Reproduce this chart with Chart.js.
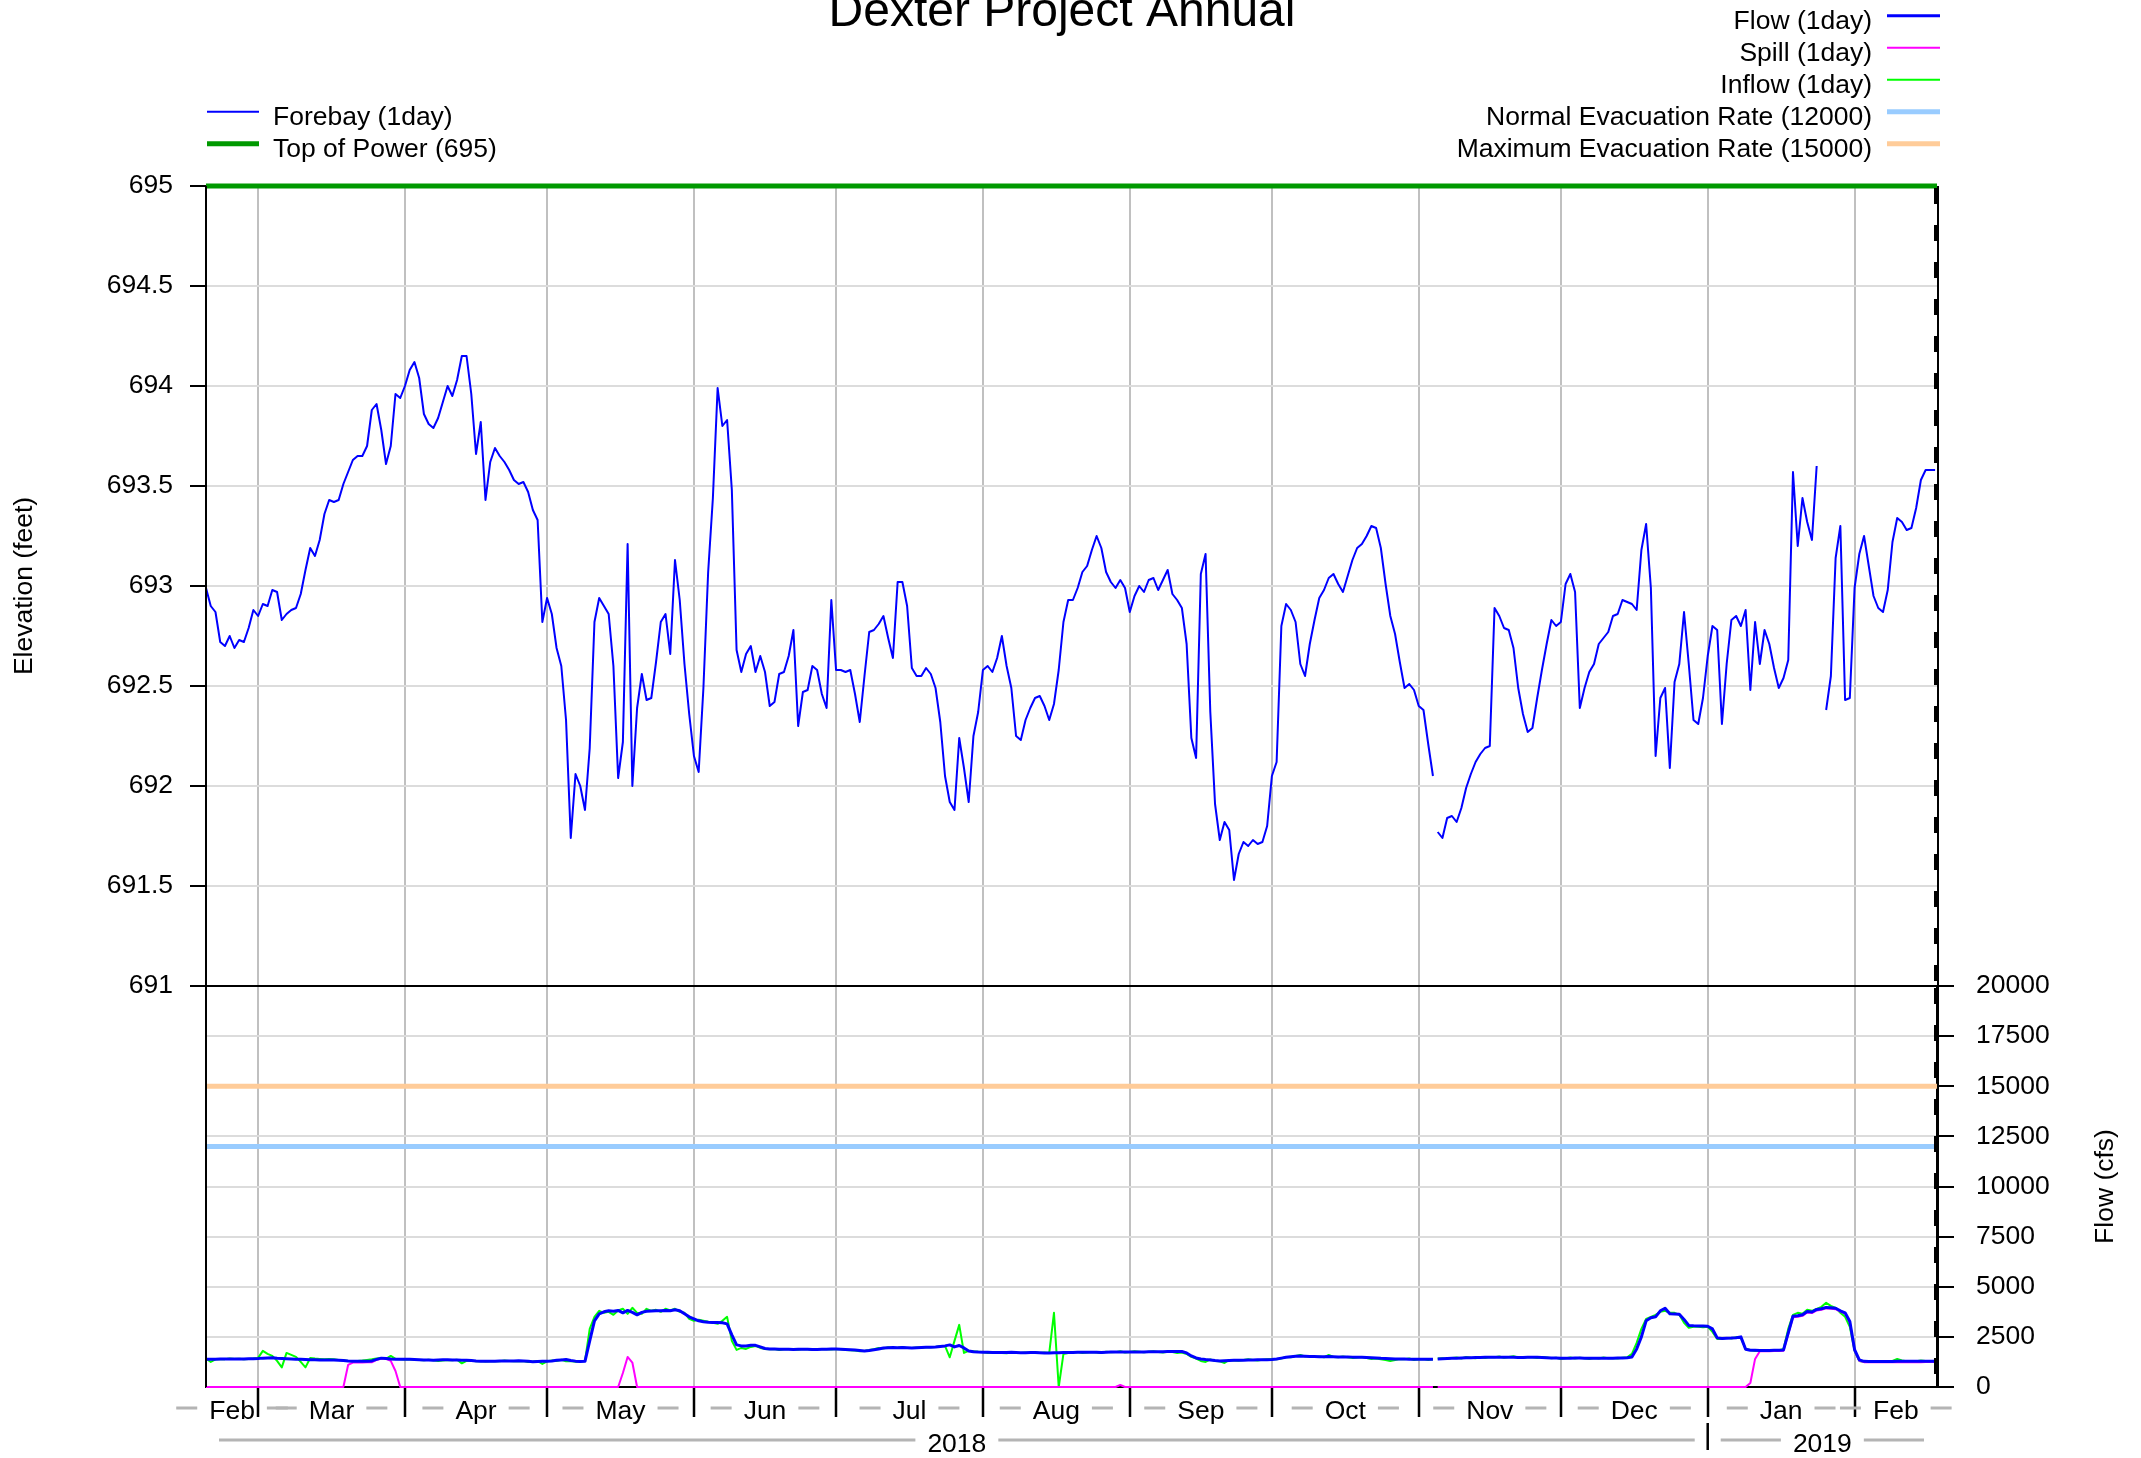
<!DOCTYPE html>
<html>
<head>
<meta charset="utf-8">
<title>Dexter Project Annual</title>
<script src="https://cdn.jsdelivr.net/npm/chart.js@4.4.1/dist/chart.umd.min.js"></script>
<style>
  html, body { margin: 0; padding: 0; background: #fff; }
  #wrap { position: relative; width: 2141px; height: 1458px; overflow: hidden; }
  #wrap canvas { position: absolute; left: 0; }
  #elevChart { top: 0; }
  #flowChart { top: 940px; }
</style>
</head>
<body>
<div id="wrap">
  <canvas id="elevChart" width="2141" height="1040"></canvas>
  <canvas id="flowChart" width="2141" height="518"></canvas>
</div>
<script>
const FONT = "'Liberation Sans', Arial, Helvetica, sans-serif";
Chart.defaults.font.family = FONT;
Chart.defaults.font.size = 26.5;
Chart.defaults.color = '#000';

// x axis: day number counted from 18 Feb 2018
const monthLabels = ['Feb', 'Mar', 'Apr', 'May', 'Jun', 'Jul', 'Aug', 'Sep', 'Oct', 'Nov', 'Dec', 'Jan', 'Feb'];
const monthStarts = [0, 11, 42, 72, 103, 133, 164, 195, 225, 256, 286, 317, 348];
const yearLabels = ['2018', '2019'];
const yearStarts = [0, 317];
const lastDay = 365.4;
const dstBreak = 259.5; // line break on 4 Nov (end of daylight time)

const elevationTicks = [691, 691.5, 692, 692.5, 693, 693.5, 694, 694.5, 695];
const flowTicks = [0, 2500, 5000, 7500, 10000, 12500, 15000, 17500, 20000];

const topOfPower = 695;
const normalEvacuation = 12000;
const maximumEvacuation = 15000;

// forebay elevation (feet), one value per day
const forebay = [
  692.99, 692.90, 692.87, 692.72, 692.70, 692.75, 692.69, 692.73, 692.72, 692.79, 692.88, 692.85, 692.91, 692.90, 692.98, 692.97, 692.83, 692.86, 692.88,
  692.89, 692.96, 693.08, 693.19, 693.15, 693.23, 693.36, 693.43, 693.42, 693.43, 693.51, 693.57, 693.63, 693.65, 693.65, 693.70, 693.88, 693.91, 693.78, 693.61, 693.70,
  693.96, 693.94, 694.00, 694.08, 694.12, 694.04, 693.86, 693.81, 693.79, 693.84, 693.92, 694.00, 693.95, 694.03, 694.15, 694.15, 693.96, 693.66, 693.82, 693.43, 693.62, 693.69, 693.65,
  693.62, 693.58, 693.53, 693.51, 693.52, 693.47, 693.38, 693.33, 692.82, 692.94, 692.86, 692.69, 692.60, 692.33, 691.74, 692.06, 692.00, 691.88, 692.19, 692.82, 692.94,
  692.90, 692.86, 692.60, 692.04, 692.22, 693.21, 692.00, 692.39, 692.56, 692.43, 692.44, 692.62, 692.82, 692.86, 692.66, 693.13, 692.93, 692.61, 692.36, 692.15, 692.07,
  692.49, 693.07, 693.44, 693.99, 693.80, 693.83, 693.48, 692.68, 692.57, 692.66, 692.70, 692.57, 692.65, 692.57, 692.40, 692.42, 692.56, 692.57, 692.65, 692.78, 692.30,
  692.47, 692.48, 692.60, 692.58, 692.46, 692.39, 692.93, 692.58, 692.58, 692.57, 692.58, 692.46, 692.32, 692.55, 692.77, 692.78, 692.81, 692.85, 692.74, 692.64, 693.02,
  693.02, 692.90, 692.59, 692.55, 692.55, 692.59, 692.56, 692.49, 692.32, 692.05, 691.92, 691.88, 692.24, 692.09, 691.92, 692.25, 692.37, 692.58, 692.60, 692.57, 692.64,
  692.75, 692.60, 692.49, 692.25, 692.23, 692.33, 692.39, 692.44, 692.45, 692.40, 692.33, 692.41, 692.58, 692.82, 692.93, 692.93, 692.99, 693.07, 693.10, 693.18, 693.25,
  693.19, 693.07, 693.02, 692.99, 693.03, 692.99, 692.87, 692.95, 693.00, 692.97, 693.03, 693.04, 692.98, 693.03, 693.08, 692.96, 692.93, 692.89, 692.71, 692.24, 692.14,
  693.06, 693.16, 692.37, 691.91, 691.73, 691.82, 691.78, 691.53, 691.66, 691.72, 691.70, 691.73, 691.71, 691.72, 691.80, 692.05, 692.12, 692.80, 692.91, 692.88, 692.82,
  692.61, 692.55, 692.71, 692.83, 692.94, 692.98, 693.04, 693.06, 693.01, 692.97, 693.05, 693.13, 693.19, 693.21, 693.25, 693.30, 693.29, 693.19, 693.01, 692.85, 692.76,
  692.62, 692.49, 692.51, 692.48, 692.40, 692.38, 692.21, 692.05, 691.77, 691.74, 691.84, 691.85, 691.82, 691.89, 691.99, 692.06, 692.12, 692.16, 692.19, 692.20, 692.89,
  692.85, 692.79, 692.78, 692.69, 692.49, 692.36, 692.27, 692.29, 692.44, 692.58, 692.71, 692.83, 692.80, 692.82, 693.01, 693.06, 692.97, 692.39, 692.49, 692.57, 692.61,
  692.71, 692.74, 692.77, 692.85, 692.86, 692.93, 692.92, 692.91, 692.88, 693.18, 693.31, 692.99, 692.15, 692.44, 692.49, 692.09, 692.52, 692.61, 692.87, 692.61, 692.33,
  692.31, 692.44, 692.65, 692.80, 692.78, 692.31, 692.61, 692.83, 692.85, 692.80, 692.88, 692.48, 692.82, 692.61, 692.78, 692.71, 692.59, 692.49, 692.54, 692.63, 693.57,
  693.20, 693.44, 693.32, 693.23, 693.60, null, 692.38, 692.55, 693.14, 693.30,
  692.43, 692.44, 692.99, 693.16, 693.25, 693.10, 692.95, 692.89, 692.87, 692.98, 693.22, 693.34, 693.32, 693.28, 693.29, 693.39, 693.53, 693.58, 693.58, 693.58
];

// daily flows (cfs)
const flow = [
  1380, 1390, 1390, 1400, 1400, 1400, 1400, 1400, 1400, 1410, 1410, 1420, 1440, 1450, 1460, 1430, 1420, 1410, 1400, 1390,
  1380, 1370, 1360, 1360, 1350, 1350, 1350, 1350, 1340, 1320, 1300, 1290, 1280, 1280, 1290, 1300, 1380, 1440, 1420, 1400,
  1390, 1390, 1380, 1380, 1370, 1360, 1350, 1350, 1340, 1350, 1360, 1360, 1350, 1350, 1340, 1340, 1320, 1300, 1290, 1280,
  1280, 1290, 1300, 1300, 1300, 1300, 1310, 1300, 1280, 1260, 1270, 1280, 1290, 1300, 1330, 1350, 1370, 1320, 1290, 1270,
  1280, 2300, 3300, 3650, 3750, 3800, 3780, 3820, 3700, 3820, 3720, 3600, 3720, 3780, 3790, 3800, 3800, 3820, 3800, 3850,
  3800, 3650, 3500, 3400, 3300, 3250, 3230, 3220, 3220, 3200, 3150, 2600, 2100, 2050, 2050, 2080, 2080, 2000, 1920, 1900,
  1890, 1880, 1880, 1880, 1870, 1880, 1880, 1880, 1870, 1870, 1880, 1880, 1890, 1890, 1880, 1870, 1860, 1840, 1820, 1800,
  1820, 1860, 1900, 1940, 1960, 1970, 1960, 1970, 1960, 1950, 1960, 1970, 1980, 1980, 1990, 2020, 2050, 2100, 2000, 2070,
  1950, 1800, 1760, 1740, 1730, 1730, 1720, 1720, 1720, 1720, 1730, 1720, 1710, 1710, 1720, 1720, 1710, 1700, 1700, 1710,
  1710, 1720, 1720, 1720, 1730, 1730, 1730, 1730, 1730, 1720, 1730, 1740, 1750, 1750, 1740, 1740, 1750, 1750, 1750, 1760,
  1760, 1760, 1760, 1770, 1770, 1770, 1770, 1700, 1550, 1450, 1400, 1370, 1350, 1320, 1300, 1310, 1320, 1330, 1340, 1340,
  1350, 1350, 1360, 1360, 1360, 1370, 1400, 1440, 1480, 1510, 1530, 1540, 1530, 1520, 1520, 1510, 1510, 1520, 1510, 1500,
  1500, 1500, 1490, 1490, 1480, 1470, 1460, 1450, 1430, 1420, 1410, 1400, 1400, 1400, 1390, 1390, 1390, 1390, 1390, 1390,
  1400, 1410, 1420, 1430, 1440, 1450, 1460, 1460, 1470, 1470, 1480, 1480, 1480, 1480, 1490, 1480, 1480, 1470, 1470, 1480,
  1490, 1480, 1470, 1460, 1450, 1450, 1440, 1440, 1440, 1450, 1450, 1440, 1430, 1430, 1440, 1440, 1440, 1440, 1450, 1450,
  1460, 1500, 1900, 2500, 3300, 3450, 3500, 3800, 3930, 3650, 3640, 3630, 3370, 3070, 3050, 3040, 3040, 3030, 2900, 2450,
  2420, 2430, 2440, 2460, 2500, 1880, 1830, 1830, 1820, 1820, 1820, 1830, 1830, 1850, 2700, 3530, 3550, 3600, 3770, 3740,
  3870, 3900, 3970, 3950, 3930, 3800, 3700, 3270, 1870, 1350, 1280, 1270, 1270, 1270, 1270, 1270, 1270, 1280, 1280, 1280,
  1280, 1280, 1280, 1290, 1290, 1290
];

const spill = [
  0, 0, 0, 0, 0, 0, 0, 0, 0, 0, 0, 0, 0, 0, 0, 0, 0, 0, 0, 0,
  0, 0, 0, 0, 0, 0, 0, 0, 0, 0, 1100, 1220, 1220, 1220, 1230, 1230, 1350, 1420, 1400, 1300,
  800, 0, 0, 0, 0, 0, 0, 0, 0, 0, 0, 0, 0, 0, 0, 0, 0, 0, 0, 0,
  0, 0, 0, 0, 0, 0, 0, 0, 0, 0, 0, 0, 0, 0, 0, 0, 0, 0, 0, 0,
  0, 0, 0, 0, 0, 0, 0, 0, 700, 1500, 1220, 0, 0, 0, 0, 0, 0, 0, 0, 0,
  0, 0, 0, 0, 0, 0, 0, 0, 0, 0, 0, 0, 0, 0, 0, 0, 0, 0, 0, 0,
  0, 0, 0, 0, 0, 0, 0, 0, 0, 0, 0, 0, 0, 0, 0, 0, 0, 0, 0, 0,
  0, 0, 0, 0, 0, 0, 0, 0, 0, 0, 0, 0, 0, 0, 0, 0, 0, 0, 0, 0,
  0, 0, 0, 0, 0, 0, 0, 0, 0, 0, 0, 0, 0, 0, 0, 0, 0, 0, 0, 0,
  0, 0, 0, 0, 0, 0, 0, 0, 0, 0, 0, 0, 0, 100, 0, 0, 0, 0, 0, 0,
  0, 0, 0, 0, 0, 0, 0, 0, 0, 0, 0, 0, 0, 0, 0, 0, 0, 0, 0, 0,
  0, 0, 0, 0, 0, 0, 0, 0, 0, 0, 0, 0, 0, 0, 0, 0, 0, 0, 0, 0,
  0, 0, 0, 0, 0, 0, 0, 0, 0, 0, 0, 0, 0, 0, 0, 0, 0, 0, 0, 0,
  0, 0, 0, 0, 0, 0, 0, 0, 0, 0, 0, 0, 0, 0, 0, 0, 0, 0, 0, 0,
  0, 0, 0, 0, 0, 0, 0, 0, 0, 0, 0, 0, 0, 0, 0, 0, 0, 0, 0, 0,
  0, 0, 0, 0, 0, 0, 0, 0, 0, 0, 0, 0, 0, 0, 0, 0, 0, 0, 0, 0,
  0, 0, 0, 0, 0, 0, 200, 1400, 1780, 1780, 1780, 1790, 1790, 1810, 2650, 3480, 3500, 3550, 3720, 3690,
  3820, 3850, 3920, 3900, 3880, 3760, 3660, 3230, 1830, 1310, 1240, 1230, 1230, 1230, 1230, 1230, 1230, 1240, 1240, 1240,
  1240, 1240, 1240, 1250, 1250, 1250
];

const inflow = [
  1420, 1250, 1380, 1400, 1390, 1420, 1400, 1410, 1380, 1400, 1420, 1450, 1800, 1650, 1550, 1300, 980, 1700, 1600, 1500,
  1250, 980, 1450, 1420, 1400, 1380, 1400, 1380, 1350, 1330, 1300, 1280, 1300, 1320, 1350, 1380, 1420, 1450, 1400, 1550,
  1400, 1380, 1370, 1380, 1360, 1350, 1340, 1360, 1330, 1300, 1320, 1350, 1340, 1360, 1180, 1300, 1320, 1280, 1300, 1270,
  1280, 1300, 1290, 1320, 1300, 1280, 1300, 1290, 1250, 1270, 1300, 1150, 1280, 1320, 1300, 1360, 1280, 1300, 1260, 1270,
  1300, 2900, 3500, 3800, 3700, 3750, 3600, 3820, 3900, 3650, 3950, 3700, 3650, 3900, 3800, 3850, 3750, 3900, 3820, 3900,
  3750, 3700, 3400, 3300, 3350, 3300, 3250, 3200, 3150, 3300, 3500, 2300, 1850, 1950, 1900, 2000, 2050, 1950, 1900, 1880,
  1900, 1850, 1880, 1900, 1870, 1860, 1900, 1880, 1850, 1870, 1900, 1880, 1870, 1900, 1880, 1850, 1830, 1820, 1780, 1800,
  1850, 1880, 1950, 1920, 1980, 1950, 1960, 2000, 1940, 1950, 1970, 1960, 2000, 1980, 2000, 2050, 2050, 1480, 2300, 3100,
  1700, 1800, 1780, 1760, 1740, 1700, 1720, 1750, 1700, 1680, 1720, 1700, 1690, 1720, 1700, 1740, 1700, 1720, 1690, 3700,
  0, 1650, 1700, 1720, 1750, 1700, 1720, 1740, 1720, 1700, 1760, 1730, 1740, 1780, 1720, 1750, 1780, 1760, 1730, 1760,
  1780, 1750, 1720, 1760, 1740, 1700, 1720, 1650, 1500, 1420, 1300, 1250, 1380, 1300, 1280, 1200, 1350, 1320, 1310, 1350,
  1380, 1350, 1320, 1360, 1380, 1400, 1380, 1420, 1500, 1480, 1550, 1600, 1520, 1550, 1500, 1520, 1480, 1600, 1500, 1480,
  1520, 1480, 1450, 1470, 1500, 1450, 1400, 1420, 1380, 1350, 1300, 1350, 1400, 1380, 1420, 1350, 1380, 1400, 1350, 1380,
  1420, 1430, 1400, 1450, 1470, 1420, 1500, 1460, 1430, 1480, 1450, 1500, 1480, 1520, 1460, 1500, 1530, 1470, 1450, 1500,
  1480, 1450, 1500, 1470, 1430, 1460, 1400, 1430, 1470, 1420, 1460, 1430, 1400, 1450, 1420, 1470, 1430, 1450, 1420, 1460,
  1480, 1650, 2200, 2900, 3400, 3500, 3600, 3750, 3800, 3700, 3700, 3600, 3200, 2950, 3000, 3000, 2980, 3000, 2750, 2400,
  2400, 2450, 2420, 2480, 2450, 1900, 1850, 1800, 1820, 1830, 1800, 1850, 1830, 1900, 2900, 3600, 3700, 3650, 3850, 3800,
  3900, 4000, 4200, 4050, 3950, 3700, 3500, 3000, 1800, 1300, 1250, 1270, 1280, 1300, 1260, 1280, 1300, 1400, 1320, 1290,
  1300, 1280, 1320, 1300, 1290, 1300
];

// day index -> {x, y}, with a break at the DST change
function toPoints(values) {
  const pts = [];
  values.forEach((v, i) => {
    if (i > dstBreak && i - 1 < dstBreak) pts.push({ x: dstBreak, y: null });
    pts.push({ x: i, y: v });
  });
  return pts;
}

function levelLine(value) {
  return [{ x: 0, y: value }, { x: lastDay, y: value }];
}

function lineSet(label, data, color, width, extra) {
  return Object.assign({
    label: label,
    data: data,
    borderColor: color,
    backgroundColor: color,
    borderWidth: width,
    pointRadius: 0,
    tension: 0,
    fill: false,
    spanGaps: false,
    borderJoinStyle: 'round'
  }, extra || {});
}

const elevSets = [
  lineSet('Forebay (1day)', toPoints(forebay), '#0000ff', 2),
  lineSet('Top of Power (695)', levelLine(topOfPower), '#009900', 5, { clip: 8 })
];

const flowSets = [
  lineSet('Flow (1day)', toPoints(flow), '#0000ff', 3),
  lineSet('Spill (1day)', toPoints(spill), '#ff00ff', 2, { clip: 4 }),
  lineSet('Inflow (1day)', toPoints(inflow), '#00ff00', 2, { clip: 4 }),
  lineSet('Normal Evacuation Rate (12000)', levelLine(normalEvacuation), '#99ccff', 5),
  lineSet('Maximum Evacuation Rate (15000)', levelLine(maximumEvacuation), '#ffcc99', 5)
];

function monthGridTicks(scale) {
  scale.ticks = monthStarts.slice(1).map(v => ({ value: v }));
}

// black frame, dashed "now" line on the right edge
const framePlugin = {
  id: 'frame',
  afterDraw(chart) {
    const { ctx, chartArea: a } = chart;
    ctx.save();
    ctx.strokeStyle = '#000';
    ctx.lineWidth = 2;
    ctx.beginPath();
    ctx.moveTo(a.left, a.top);
    ctx.lineTo(a.left, a.bottom);
    ctx.moveTo(a.right + 1, a.top);
    ctx.lineTo(a.right + 1, a.bottom);
    if (chart.canvas.id === 'flowChart') {
      ctx.moveTo(a.left, a.top);
      ctx.lineTo(a.right, a.top);
    }
    ctx.stroke();
    ctx.lineWidth = 3;
    ctx.setLineDash([16, 21]);
    ctx.beginPath();
    ctx.moveTo(a.right - 1.5, a.top + 2);
    ctx.lineTo(a.right - 1.5, a.bottom);
    ctx.stroke();
    ctx.restore();
  }
};

// title and the two legends
const headerPlugin = {
  id: 'header',
  afterDraw(chart) {
    const ctx = chart.ctx;
    ctx.save();
    ctx.fillStyle = '#000';
    ctx.textBaseline = 'alphabetic';
    ctx.font = '48px ' + FONT;
    ctx.textAlign = 'center';
    ctx.fillText('Dexter Project Annual', 1062, 26);

    ctx.font = '26.5px ' + FONT;
    flowSets.forEach((ds, i) => {
      const y = 15.7 + 32 * i;
      ctx.textAlign = 'right';
      ctx.fillStyle = '#000';
      ctx.fillText(ds.label, 1872, y + 13.5);
      ctx.strokeStyle = ds.borderColor;
      ctx.lineWidth = Math.min(ds.borderWidth, 5);
      ctx.beginPath();
      ctx.moveTo(1887, y);
      ctx.lineTo(1940, y);
      ctx.stroke();
    });
    elevSets.forEach((ds, i) => {
      const y = 111.7 + 32 * i;
      ctx.textAlign = 'left';
      ctx.fillStyle = '#000';
      ctx.fillText(ds.label, 273, y + 13.5);
      ctx.strokeStyle = ds.borderColor;
      ctx.lineWidth = ds.borderWidth;
      ctx.beginPath();
      ctx.moveTo(207, y);
      ctx.lineTo(259, y);
      ctx.stroke();
    });
    ctx.restore();
  }
};

// month / year labels under the flow panel and the right axis title
const timeAxisPlugin = {
  id: 'timeAxis',
  afterDraw(chart) {
    const { ctx, chartArea: a } = chart;
    const x = chart.scales.x;
    const b = a.bottom;
    ctx.save();
    ctx.font = '26.5px ' + FONT;
    ctx.textAlign = 'center';
    ctx.textBaseline = 'alphabetic';
    ctx.lineWidth = 3;
    ctx.strokeStyle = '#b4b4b4';

    monthLabels.forEach((label, i) => {
      const x0 = x.getPixelForValue(monthStarts[i]);
      const x1 = x.getPixelForValue(i + 1 < monthStarts.length ? monthStarts[i + 1] : lastDay);
      const c = (x0 + x1) / 2;
      const half = ctx.measureText(label).width / 2;
      ctx.fillStyle = '#000';
      ctx.fillText(label, c, b + 32);
      ctx.beginPath();
      ctx.moveTo(c - half - 33, b + 21);
      ctx.lineTo(c - half - 12, b + 21);
      ctx.moveTo(c + half + 12, b + 21);
      ctx.lineTo(c + half + 33, b + 21);
      ctx.stroke();
    });

    yearLabels.forEach((label, i) => {
      const x0 = x.getPixelForValue(yearStarts[i]);
      const x1 = x.getPixelForValue(i + 1 < yearStarts.length ? yearStarts[i + 1] : lastDay);
      const c = (x0 + x1) / 2;
      const half = ctx.measureText(label).width / 2;
      ctx.fillStyle = '#000';
      ctx.fillText(label, c, b + 65);
      ctx.strokeStyle = '#b4b4b4';
      ctx.lineWidth = 3;
      ctx.beginPath();
      ctx.moveTo(x0 + 13, b + 53);
      ctx.lineTo(c - half - 12, b + 53);
      ctx.moveTo(c + half + 12, b + 53);
      ctx.lineTo(x1 - 13, b + 53);
      ctx.stroke();
      if (i > 0) {
        ctx.strokeStyle = '#000';
        ctx.lineWidth = 2.5;
        ctx.beginPath();
        ctx.moveTo(x0, b + 36);
        ctx.lineTo(x0, b + 63);
        ctx.stroke();
      }
    });

    ctx.translate(2106, (a.top + a.bottom) / 2);
    ctx.rotate(-Math.PI / 2);
    ctx.textBaseline = 'middle';
    ctx.fillStyle = '#000';
    ctx.fillText('Flow (cfs)', 0, 0);
    ctx.restore();
  }
};

const baseOptions = {
  responsive: false,
  animation: false,
  devicePixelRatio: 1,
  events: [],
  plugins: { legend: { display: false }, tooltip: { enabled: false }, title: { display: false } }
};

new Chart(document.getElementById('elevChart'), {
  type: 'line',
  data: { datasets: elevSets },
  options: Object.assign({}, baseOptions, {
    layout: { padding: { top: 186, right: 204, bottom: 0, left: 0 } },
    scales: {
      x: {
        type: 'linear', min: 0, max: lastDay,
        afterBuildTicks: monthGridTicks,
        afterFit: s => { s.height = 54; },
        ticks: { display: false },
        grid: { color: '#c0c0c0', lineWidth: 2, drawTicks: false },
        border: { color: '#000', width: 2 }
      },
      y: {
        type: 'linear', min: 691, max: 695,
        afterBuildTicks: s => { s.ticks = elevationTicks.map(v => ({ value: v })); },
        afterFit: s => { s.width = 206; },
        ticks: { padding: 17, callback: v => String(v) },
        grid: { color: '#dcdcdc', lineWidth: 2, tickColor: '#000', tickLength: 16, tickWidth: 2 },
        border: { color: '#000', width: 2 },
        title: { display: true, text: 'Elevation (feet)', padding: { top: 9, bottom: 0 } }
      }
    }
  }),
  plugins: [framePlugin, headerPlugin]
});

new Chart(document.getElementById('flowChart'), {
  type: 'line',
  data: { datasets: flowSets },
  options: Object.assign({}, baseOptions, {
    layout: { padding: { top: 46, right: 0, bottom: 0, left: 206 } },
    scales: {
      x: {
        type: 'linear', min: 0, max: lastDay,
        afterBuildTicks: monthGridTicks,
        afterFit: s => { s.height = 71; },
        ticks: { display: false },
        grid: { color: '#c0c0c0', lineWidth: 2, drawTicks: true, tickLength: 30, tickColor: '#000', tickWidth: 2.5 },
        border: { color: '#000', width: 2 }
      },
      y: {
        type: 'linear', position: 'right', min: 0, max: 20000,
        afterBuildTicks: s => { s.ticks = flowTicks.map(v => ({ value: v })); },
        afterFit: s => { s.width = 204; },
        ticks: { padding: 22, callback: v => String(v) },
        grid: { color: '#dcdcdc', lineWidth: 2, tickColor: '#000', tickLength: 17, tickWidth: 2 },
        border: { color: '#000', width: 2 }
      }
    }
  }),
  plugins: [framePlugin, timeAxisPlugin]
});
</script>
</body>
</html>
